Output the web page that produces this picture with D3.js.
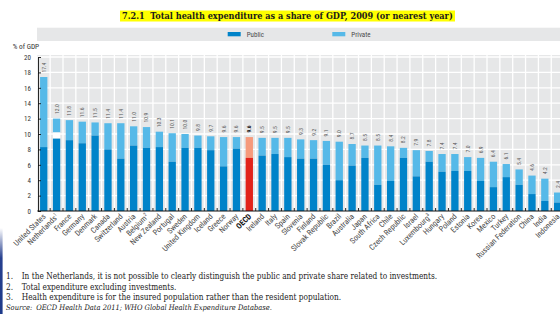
<!DOCTYPE html>
<html>
<head>
<meta charset="utf-8">
<script src="https://cdn.jsdelivr.net/npm/d3@7"></script>
<style>
  body { margin: 0; background: white; }
  svg { display: block; }
</style>
</head>
<body>
<div id="chart"></div>
<script>
const countries = ["United States", "Netherlands", "France", "Germany", "Denmark", "Canada",
  "Switzerland", "Austria", "Belgium", "New Zealand", "Portugal", "Sweden", "United Kingdom",
  "Iceland", "Greece", "Norway", "OECD", "Ireland", "Italy", "Spain", "Slovenia", "Finland",
  "Slovak Republic", "Brazil", "Australia", "Japan", "South Africa", "Chile", "Czech Republic",
  "Israel", "Luxembourg", "Hungary", "Poland", "Estonia", "Korea", "Mexico", "Turkey",
  "Russian Federation", "China", "India", "Indonesia"];

// total health expenditure, % of GDP
const totalSpend = [17.4, 12.0, 11.8, 11.6, 11.5, 11.4, 11.4, 11.0, 10.9, 10.3, 10.1, 10.0, 9.8,
  9.7, 9.6, 9.6, 9.6, 9.5, 9.5, 9.5, 9.3, 9.2, 9.1, 9.0, 8.7, 8.5, 8.5, 8.4, 8.2, 7.9, 7.8, 7.4,
  7.4, 7.0, 6.9, 6.4, 6.1, 5.4, 4.6, 4.2, 2.4];

// public part, % of GDP
const publicSpend = [8.3, 9.4, 9.2, 8.8, 9.8, 8.0, 6.8, 8.5, 8.2, 8.3, 6.4, 8.2, 8.2,
  7.9, 5.8, 8.1, 6.9, 7.2, 7.4, 7.0, 6.8, 6.8, 6.0, 4.0, 5.9, 6.9, 3.4, 3.9, 6.9, 4.5, 6.4, 5.1,
  5.2, 5.2, 3.9, 3.1, 4.4, 3.4, 2.2, 1.3, 1.1];

// share that cannot be split between public and private (note 1)
const unallocated = { Netherlands: 0.8 };
const noteMarks = { Netherlands: "1", Belgium: "2", Luxembourg: "3" };

const yTicks = [0, 2, 4, 6, 8, 10, 12, 14, 16, 18, 20];
const legendLabels = ["Public", "Private"];

const title = "7.2.1  Total health expenditure as a share of GDP, 2009 (or nearest year)";
const footnotes = [
  ["1.", "In the Netherlands, it is not possible to clearly distinguish the public and private share related to investments."],
  ["2.", "Total expenditure excluding investments."],
  ["3.", "Health expenditure is for the insured population rather than the resident population."]
];
const sourceText = "OECD Health Data 2011; WHO Global Health Expenditure Database.";

const colors = {
  public: "#0083c9",
  private: "#56b9e8",
  oecdPublic: "#e2231a",
  oecdPrivate: "#f69a7c",
  panel: "#e6e7e8",
  text: "#4a4a4a"
};
const sans = "'Liberation Sans Narrow', 'Roboto Condensed', Roboto, sans-serif";
const serif = "'DejaVu Serif Condensed', 'DejaVu Serif', serif";

const width = 560;
const height = 314;

const svg = d3
  .select("#chart")
  .append("svg")
  .attr("width", width)
  .attr("height", height);

const plot = { left: 37.3, right: 564.1, top: 57, bottom: 211 };

const xPositionScale = d3
  .scaleBand()
  .domain(countries)
  .range([plot.left, plot.right])
  .paddingInner(0.43)
  .paddingOuter(0.215);

const yPositionScale = d3.scaleLinear().domain([0, 20]).range([plot.bottom, plot.top]);

const data = countries.map((c, i) => ({
  country: c,
  total: totalSpend[i],
  pub: publicSpend[i],
  gap: unallocated[c] || 0,
  isOecd: c === "OECD"
}));

// shrink/grow a text node to a given width
function fitWidth(sel, w) {
  const len = sel.node().getComputedTextLength();
  const fs = parseFloat(sel.style("font-size"));
  sel.style("font-size", (fs * w) / len + "px");
  return fs * w / len;
}

// title with yellow highlight
svg.append("rect")
  .attr("x", 120)
  .attr("y", 10.5)
  .attr("width", 335)
  .attr("height", 11)
  .attr("fill", "#ffff00");

const titleText = svg.append("text")
  .text(title)
  .attr("x", 122)
  .attr("y", 19.3)
  .style("font-family", serif)
  .style("font-weight", "bold")
  .style("font-size", "10px")
  .attr("fill", "#1a1a1a")
  .attr("xml:space", "preserve");
fitWidth(titleText, 331);

// legend band
svg.append("rect")
  .attr("x", 37)
  .attr("y", 27.7)
  .attr("width", width - 37)
  .attr("height", 13.3)
  .attr("fill", colors.panel);

const legend = svg.selectAll(".legend")
  .data(legendLabels)
  .enter()
  .append("g")
  .attr("class", "legend")
  .attr("transform", (d, i) => `translate(${227.7 + i * 104.6} 32)`);

legend.append("rect")
  .attr("width", 13)
  .attr("height", 4.3)
  .attr("fill", (d, i) => (i === 0 ? colors.public : colors.private));

legend.append("text")
  .text((d) => d)
  .attr("x", 19)
  .attr("y", 2.2)
  .attr("dy", "0.35em")
  .style("font-family", sans)
  .style("font-size", "7px")
  .attr("fill", colors.text);

// y axis title
svg.append("text")
  .text("% of GDP")
  .attr("x", 12.7)
  .attr("y", 46.7)
  .attr("dy", "0.35em")
  .style("font-family", sans)
  .style("font-size", "7.3px")
  .attr("fill", "#333");

// panel + grid
svg.append("rect")
  .attr("x", plot.left)
  .attr("y", plot.top - 2)
  .attr("width", plot.right - plot.left)
  .attr("height", plot.bottom - plot.top + 2)
  .attr("fill", colors.panel);

const step = xPositionScale.step();
const boundaries = d3.range(countries.length + 1).map((i) => plot.left + i * step);

svg.append("g")
  .selectAll("line")
  .data(yTicks.filter((d) => d > 0))
  .enter()
  .append("line")
  .attr("x1", plot.left)
  .attr("x2", plot.right)
  .attr("y1", (d) => yPositionScale(d))
  .attr("y2", (d) => yPositionScale(d))
  .attr("stroke", "white")
  .attr("stroke-width", 1.3);

svg.append("g")
  .selectAll("line")
  .data(boundaries.slice(1))
  .enter()
  .append("line")
  .attr("x1", (d) => d)
  .attr("x2", (d) => d)
  .attr("y1", plot.top - 2)
  .attr("y2", plot.bottom)
  .attr("stroke", "white")
  .attr("stroke-width", 1.3);

// bars
const groups = svg.append("g")
  .selectAll("g")
  .data(data)
  .enter()
  .append("g")
  .attr("transform", (d) => `translate(${xPositionScale(d.country)} 0)`);

const bw = xPositionScale.bandwidth();

groups.append("rect")
  .attr("y", (d) => yPositionScale(d.total))
  .attr("height", (d) => yPositionScale(d.pub + d.gap) - yPositionScale(d.total))
  .attr("width", bw)
  .attr("fill", (d) => (d.isOecd ? colors.oecdPrivate : colors.private));

groups.filter((d) => d.gap > 0)
  .append("rect")
  .attr("y", (d) => yPositionScale(d.pub + d.gap))
  .attr("height", (d) => yPositionScale(d.pub) - yPositionScale(d.pub + d.gap))
  .attr("width", bw)
  .attr("fill", "white");

groups.append("rect")
  .attr("y", (d) => yPositionScale(d.pub))
  .attr("height", (d) => yPositionScale(0) - yPositionScale(d.pub))
  .attr("width", bw)
  .attr("fill", (d) => (d.isOecd ? colors.oecdPublic : colors.public));

// value labels
groups.append("text")
  .text((d) => d.total.toFixed(1))
  .attr("transform", (d) => `translate(${bw / 2} ${yPositionScale(d.total) - 4.5}) rotate(-90)`)
  .attr("dy", "0.35em")
  .style("font-family", sans)
  .style("font-size", "5.6px")
  .style("font-weight", (d) => (d.isOecd ? "bold" : "normal"))
  .attr("fill", (d) => (d.isOecd ? "#111" : "#555"));

// y axis
const axisLeft = d3
  .axisLeft(yPositionScale)
  .tickValues(yTicks)
  .tickSizeInner(-3)
  .tickSizeOuter(0)
  .tickPadding(7);

const yAxis = svg.append("g")
  .attr("transform", `translate(${plot.left + 0.7} 0)`)
  .call(axisLeft);

yAxis.select(".domain").attr("stroke", "#111").attr("stroke-width", 0.9);
yAxis.selectAll(".tick line").attr("stroke", "#111").attr("stroke-width", 0.9);
yAxis.selectAll(".tick text")
  .style("font-family", sans)
  .style("font-size", "7px")
  .attr("fill", "#333");

// x axis baseline with small boundary ticks
svg.append("line")
  .attr("x1", plot.left)
  .attr("x2", plot.right)
  .attr("y1", plot.bottom)
  .attr("y2", plot.bottom)
  .attr("stroke", "#111")
  .attr("stroke-width", 1);

svg.append("g")
  .selectAll("line")
  .data(boundaries.slice(1))
  .enter()
  .append("line")
  .attr("x1", (d) => d)
  .attr("x2", (d) => d)
  .attr("y1", plot.bottom - 3)
  .attr("y2", plot.bottom)
  .attr("stroke", "#111")
  .attr("stroke-width", 0.9);

// country labels
const countryLabels = svg.append("g")
  .selectAll("text")
  .data(data)
  .enter()
  .append("text")
  .attr("transform", (d) =>
    `translate(${xPositionScale(d.country) + bw / 2 + 2.5} ${plot.bottom + 6}) rotate(-45)`)
  .style("text-anchor", "end")
  .style("font-family", sans)
  .style("font-size", "7.9px")
  .style("font-weight", (d) => (d.isOecd ? "bold" : "normal"))
  .attr("fill", (d) => (d.isOecd ? "#111" : colors.text));

countryLabels.append("tspan").text((d) => d.country);
countryLabels.filter((d) => noteMarks[d.country])
  .append("tspan")
  .text((d) => noteMarks[d.country])
  .attr("baseline-shift", "super")
  .style("font-size", "5px");

// footnotes
const notes = svg.append("g")
  .selectAll("g")
  .data(footnotes)
  .enter()
  .append("g")
  .attr("transform", (d, i) => `translate(0 ${278.6 + i * 10.9})`);

notes.append("text")
  .text((d) => d[0])
  .attr("x", 6);

const noteText = notes.append("text")
  .text((d) => d[1])
  .attr("x", 21.7);

notes.selectAll("text")
  .style("font-family", serif)
  .style("font-size", "7px")
  .attr("fill", "#222");

const noteSize = fitWidth(noteText.filter((d, i) => i === 2), 320);
notes.selectAll("text").style("font-size", noteSize + "px");

const source = svg.append("text")
  .attr("x", 6)
  .attr("y", 310.2)
  .style("font-family", serif)
  .style("font-size", noteSize + "px")
  .style("font-style", "italic")
  .attr("fill", "#222");
source.append("tspan").text("Source:");
source.append("tspan").attr("dx", 4).text(sourceText);
fitWidth(source, 262);

// page edge strip on the left
const grad = svg.append("defs")
  .append("linearGradient")
  .attr("id", "edge")
  .attr("x1", 0).attr("x2", 0).attr("y1", 0).attr("y2", 1);
grad.append("stop").attr("offset", "0%").attr("stop-color", "#ffffff");
grad.append("stop").attr("offset", "35%").attr("stop-color", "#27408f");
grad.append("stop").attr("offset", "100%").attr("stop-color", "#1d3a8a");

svg.append("rect")
  .attr("x", 0)
  .attr("y", 228)
  .attr("width", 2.6)
  .attr("height", height - 228)
  .attr("fill", "url(#edge)");
</script>
</body>
</html>
